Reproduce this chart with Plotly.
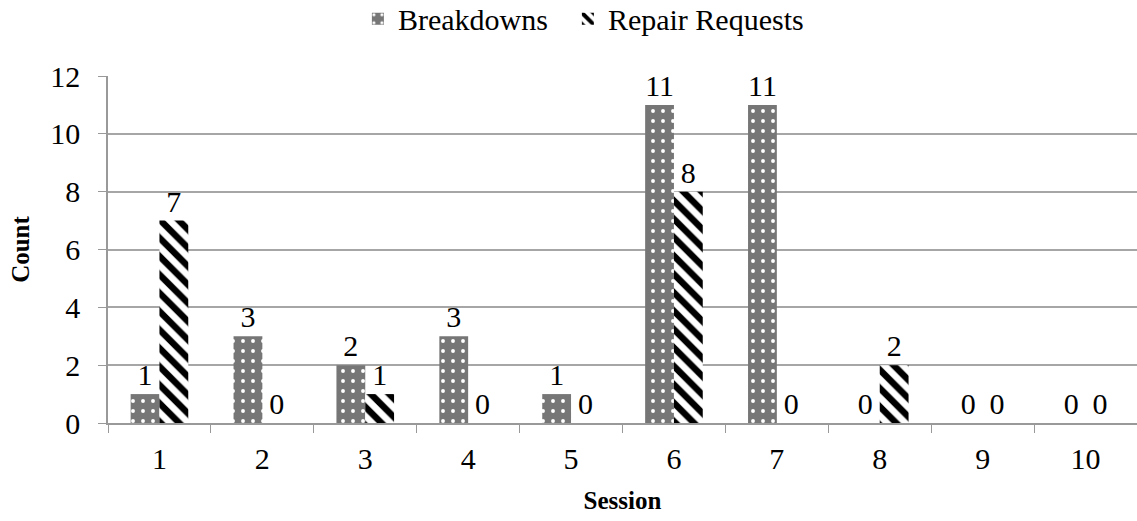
import plotly.graph_objects as go

sessions = ["1", "2", "3", "4", "5", "6", "7", "8", "9", "10"]
breakdowns = [1, 3, 2, 3, 1, 11, 11, 0, 0, 0]
repair_requests = [7, 0, 1, 0, 0, 8, 0, 2, 0, 0]
y_ticks = [0, 2, 4, 6, 8, 10, 12]

FONT = "Liberation Serif"
FS = 30
TS = 25

fig = go.Figure()
fig.add_trace(go.Bar(
    name="Breakdowns  ", x=sessions, y=breakdowns,
    text=[str(v) for v in breakdowns], textposition="outside",
    textfont=dict(family=FONT, size=FS, color="black"),
    marker=dict(color="#707070", line=dict(width=0),
                pattern=dict(shape=".", fgcolor="white", bgcolor="#767676",
                             size=10, solidity=0.12, fgopacity=1)),
    cliponaxis=False,
))
fig.add_trace(go.Bar(
    name="Repair Requests", x=sessions, y=repair_requests,
    text=[str(v) for v in repair_requests], textposition="outside",
    textfont=dict(family=FONT, size=FS, color="black"),
    marker=dict(color="white", line=dict(width=0),
                pattern=dict(shape="\\", fgcolor="black", bgcolor="white",
                             size=13, solidity=0.5, fgopacity=1)),
    cliponaxis=False,
))

fig.update_layout(
    width=1137, height=521,
    margin=dict(l=108, r=0, t=76, b=98, autoexpand=False),
    paper_bgcolor="white", plot_bgcolor="white",
    barmode="group", bargap=0.44, bargroupgap=0,
    font=dict(family=FONT, size=FS, color="black"),
    legend=dict(orientation="h", x=0.462, xanchor="center", y=1.165, yanchor="middle",
                yref="paper", font=dict(family=FONT, size=FS),
                itemwidth=30, tracegroupgap=0),
    showlegend=True,
)
fig.update_xaxes(
    type="category", showgrid=False, ticks="outside", tickson="boundaries",
    ticklen=8, tickcolor="#999999", showline=True, linecolor="#999999", linewidth=1.5,
    tickfont=dict(family=FONT, size=FS), ticklabelstandoff=8, automargin=False,
    title=dict(text="<b>Session</b>", font=dict(family=FONT, size=TS), standoff=18),
)
fig.update_yaxes(
    range=[0, 12], tickvals=y_ticks, showgrid=True, gridcolor="#a6a6a6", gridwidth=1.5,
    ticks="outside", ticklen=8, tickcolor="#999999", showline=True,
    linecolor="#999999", linewidth=1.5, zeroline=False, automargin=False,
    tickfont=dict(family=FONT, size=FS), ticklabelstandoff=12,
    title=dict(text="<b>Count</b>", font=dict(family=FONT, size=TS), standoff=14),
)

fig.write_html("out.html")
